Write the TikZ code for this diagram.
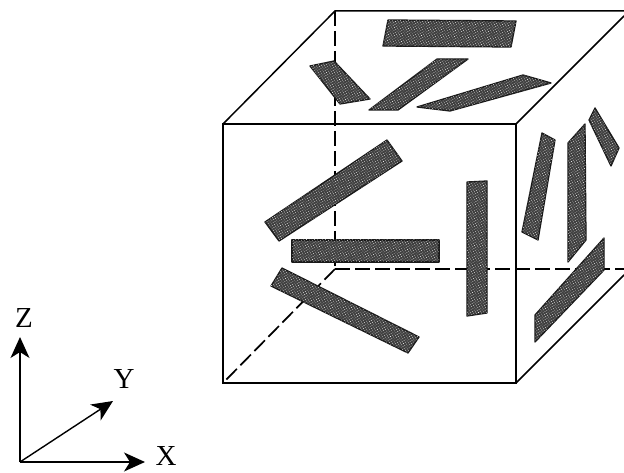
\documentclass[tikz,border=0pt]{standalone}
\usepackage{fontspec}
\setmainfont{Liberation Serif}
\usetikzlibrary{arrows.meta,patterns.meta}
\tikzset{
  edgeline/.style={line width=1.5pt,black,line cap=round},
  hidden/.style={line width=1.7pt,black,dash pattern=on 15pt off 5pt},
  plate/.style={fill=black!75,draw=black!90,line width=1.3pt,line join=round,
    postaction={pattern={Dots[radius=0.42pt,distance=2.2pt,angle=35]},pattern color=white}},
  axis/.style={line width=1.4pt,black,-{Stealth[length=21pt,width=19pt,inset=6pt]}},
  axislabel/.style={inner sep=0pt,font=\fontsize{29}{29}\selectfont}
}
\begin{document}
\begin{tikzpicture}[x=1pt,y=-1pt]
\useasboundingbox (0,0) rectangle (624,473);
\clip (0,0) rectangle (624,473);
\coordinate (ftl) at (223,124);
\coordinate (ftr) at (516,124);
\coordinate (fbl) at (223,383);
\coordinate (fbr) at (516,383);
\coordinate (btl) at (335,11);
\coordinate (bbl) at (335,269);
\coordinate (btr) at (624,11);
\coordinate (bbr) at (624,269);
\coordinate (rtop) at (624,16);
\coordinate (rbot) at (624,275);
% hidden edges
\draw[hidden] (btl) -- (bbl);
\draw[hidden] (bbl) -- (bbr);
\draw[hidden] (bbl) -- (fbl);
% visible edges
\draw[edgeline] (ftl) rectangle (fbr);
\draw[edgeline] (ftl) -- (btl) -- (btr);
\draw[edgeline] (ftr) -- (rtop);
\draw[edgeline] (fbr) -- (rbot);
% top face plates
\draw[plate] (388,20) -- (516,21) -- (511,47) -- (383,46) -- cycle;
\draw[plate] (310,66) -- (334,61) -- (370,99) -- (340,104) -- cycle;
\draw[plate] (437,59) -- (468,59) -- (398,110) -- (369,110) -- cycle;
\draw[plate] (523,75) -- (551,83) -- (450,111) -- (417,107) -- cycle;
% right face plates
\draw[plate] (542,133) -- (555,140) -- (538,240) -- (522,232) -- cycle;
\draw[plate] (568,143) -- (585,124) -- (586,240) -- (568,262) -- cycle;
\draw[plate] (595,108) -- (619,148) -- (611,166) -- (589,120) -- cycle;
\draw[plate] (604,238) -- (604,270) -- (535,342) -- (535,315) -- cycle;
% front face plates
\draw[plate] (387,140) -- (402,161) -- (279,241) -- (265,222) -- cycle;
\draw[plate] (292,240) -- (439,240) -- (439,262) -- (292,262) -- cycle;
\draw[plate] (282,268) -- (419,337) -- (408,353) -- (271,286) -- cycle;
\draw[plate] (467,182) -- (487,181) -- (487,313) -- (467,316) -- cycle;
% axes
\coordinate (o) at (20,462);
\coordinate (zt) at (20,337);
\coordinate (xt) at (145,462);
\coordinate (yt) at (113,401);
\draw[axis] (o) -- (zt);
\draw[axis] (o) -- (xt);
\draw[axis] (o) -- (yt);
\node[axislabel] (zl) at (24,318) {Z};
\node[axislabel] (yl) at (124,379) {Y};
\node[axislabel] (xl) at (166,456) {X};
\end{tikzpicture}
\end{document}
